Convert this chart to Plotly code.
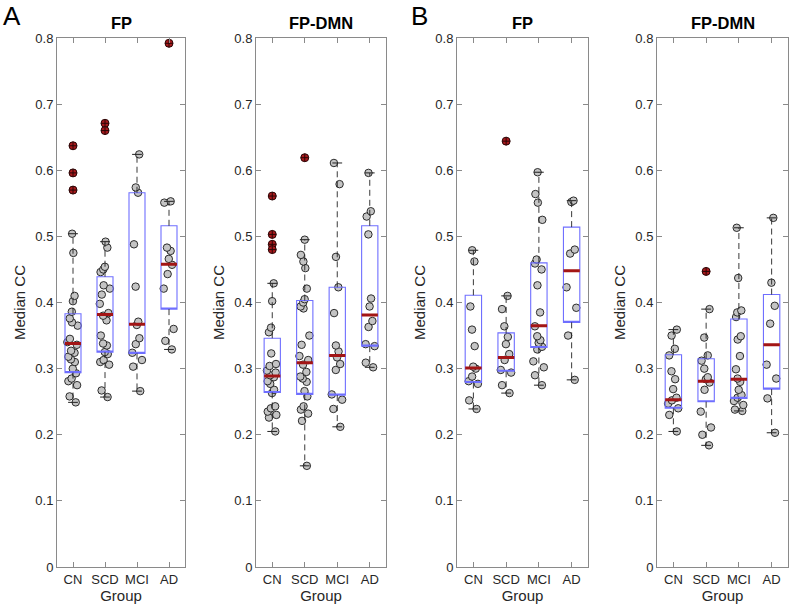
import plotly.graph_objects as go

groups = ["CN", "SCD", "MCI", "AD"]
panel_titles = ["FP", "FP-DMN", "FP", "FP-DMN"]
panel_letters = ["A", "B"]

# ---------------- Panel A : FP ----------------
a_fp_cn = [0.504, 0.475, 0.410, 0.402, 0.386, 0.376, 0.370, 0.365, 0.345, 0.340, 0.336, 0.327,
           0.324, 0.318, 0.314, 0.310, 0.300, 0.293, 0.285, 0.281, 0.275, 0.258, 0.249]
a_fp_scd = [0.492, 0.483, 0.454, 0.450, 0.446, 0.426, 0.421, 0.412, 0.398, 0.384, 0.380, 0.373,
            0.350, 0.338, 0.335, 0.325, 0.322, 0.313, 0.310, 0.306, 0.267, 0.257]
a_fp_mci = [0.624, 0.574, 0.566, 0.488, 0.424, 0.371, 0.366, 0.346, 0.337, 0.324, 0.313, 0.303, 0.266]
a_fp_ad = [0.553, 0.551, 0.483, 0.478, 0.466, 0.457, 0.443, 0.421, 0.360, 0.342, 0.329]
a_fp_out_cn = [0.637, 0.596, 0.570]
a_fp_out_scd = [0.671, 0.660]
a_fp_out_mci = []
a_fp_out_ad = [0.792]
a_fp_q1 = [0.294, 0.325, 0.323, 0.390]
a_fp_med = [0.338, 0.382, 0.367, 0.458]
a_fp_q3 = [0.383, 0.439, 0.566, 0.516]
a_fp_lo = [0.249, 0.257, 0.266, 0.329]
a_fp_hi = [0.504, 0.492, 0.624, 0.553]

# ---------------- Panel A : FP-DMN ----------------
a_dmn_cn = [0.429, 0.402, 0.362, 0.355, 0.323, 0.307, 0.304, 0.297, 0.294, 0.290, 0.287, 0.281,
            0.277, 0.268, 0.263, 0.243, 0.240, 0.235, 0.230, 0.226, 0.205]
a_dmn_scd = [0.495, 0.472, 0.462, 0.452, 0.421, 0.405, 0.400, 0.394, 0.391, 0.350, 0.336, 0.319,
             0.313, 0.306, 0.295, 0.288, 0.285, 0.280, 0.266, 0.258, 0.243, 0.238, 0.232, 0.221, 0.153]
a_dmn_mci = [0.611, 0.579, 0.469, 0.423, 0.384, 0.335, 0.326, 0.317, 0.307, 0.298, 0.261, 0.253,
             0.239, 0.212]
a_dmn_ad = [0.596, 0.538, 0.530, 0.503, 0.406, 0.394, 0.372, 0.363, 0.337, 0.334, 0.309, 0.302]
a_dmn_out_cn = [0.561, 0.503, 0.488, 0.480]
a_dmn_out_scd = [0.619]
a_dmn_out_mci = []
a_dmn_out_ad = []
a_dmn_q1 = [0.264, 0.261, 0.260, 0.334]
a_dmn_med = [0.289, 0.309, 0.320, 0.381]
a_dmn_q3 = [0.346, 0.403, 0.423, 0.516]
a_dmn_lo = [0.205, 0.153, 0.212, 0.302]
a_dmn_hi = [0.429, 0.495, 0.611, 0.596]

# ---------------- Panel B : FP ----------------
b_fp_cn = [0.479, 0.462, 0.394, 0.359, 0.334, 0.303, 0.300, 0.288, 0.281, 0.277, 0.252, 0.239]
b_fp_scd = [0.410, 0.390, 0.364, 0.348, 0.337, 0.322, 0.313, 0.298, 0.294, 0.275, 0.263]
b_fp_mci = [0.597, 0.564, 0.551, 0.525, 0.465, 0.459, 0.450, 0.426, 0.385, 0.364, 0.349, 0.343,
            0.339, 0.333, 0.329, 0.311, 0.302, 0.290, 0.275]
b_fp_ad = [0.554, 0.552, 0.480, 0.474, 0.423, 0.392, 0.350, 0.283]
b_fp_out_cn = []
b_fp_out_scd = [0.644]
b_fp_out_mci = []
b_fp_out_ad = []
b_fp_q1 = [0.279, 0.296, 0.332, 0.370]
b_fp_med = [0.301, 0.317, 0.365, 0.448]
b_fp_q3 = [0.411, 0.354, 0.460, 0.514]
b_fp_lo = [0.239, 0.263, 0.275, 0.283]
b_fp_hi = [0.479, 0.410, 0.597, 0.554]

# ---------------- Panel B : FP-DMN ----------------
b_dmn_cn = [0.359, 0.350, 0.330, 0.320, 0.296, 0.284, 0.269, 0.256, 0.252, 0.247, 0.240, 0.230, 0.205]
b_dmn_scd = [0.390, 0.347, 0.320, 0.312, 0.300, 0.287, 0.284, 0.279, 0.268, 0.235, 0.211, 0.200, 0.184]
b_dmn_mci = [0.513, 0.437, 0.388, 0.385, 0.378, 0.349, 0.344, 0.319, 0.299, 0.285, 0.280, 0.268,
             0.260, 0.256, 0.251, 0.245, 0.238, 0.236]
b_dmn_ad = [0.528, 0.430, 0.395, 0.368, 0.306, 0.285, 0.255, 0.203]
b_dmn_out_cn = []
b_dmn_out_scd = [0.447]
b_dmn_out_mci = []
b_dmn_out_ad = []
b_dmn_q1 = [0.240, 0.250, 0.255, 0.269]
b_dmn_med = [0.253, 0.281, 0.284, 0.336]
b_dmn_q3 = [0.321, 0.315, 0.375, 0.412]
b_dmn_lo = [0.205, 0.184, 0.236, 0.203]
b_dmn_hi = [0.359, 0.390, 0.513, 0.528]

y_ticks = [0, 0.1, 0.2, 0.3, 0.4, 0.5, 0.6, 0.7, 0.8]

panels = [
    dict(points=[a_fp_cn, a_fp_scd, a_fp_mci, a_fp_ad],
         outliers=[a_fp_out_cn, a_fp_out_scd, a_fp_out_mci, a_fp_out_ad],
         q1=a_fp_q1, med=a_fp_med, q3=a_fp_q3, lo=a_fp_lo, hi=a_fp_hi),
    dict(points=[a_dmn_cn, a_dmn_scd, a_dmn_mci, a_dmn_ad],
         outliers=[a_dmn_out_cn, a_dmn_out_scd, a_dmn_out_mci, a_dmn_out_ad],
         q1=a_dmn_q1, med=a_dmn_med, q3=a_dmn_q3, lo=a_dmn_lo, hi=a_dmn_hi),
    dict(points=[b_fp_cn, b_fp_scd, b_fp_mci, b_fp_ad],
         outliers=[b_fp_out_cn, b_fp_out_scd, b_fp_out_mci, b_fp_out_ad],
         q1=b_fp_q1, med=b_fp_med, q3=b_fp_q3, lo=b_fp_lo, hi=b_fp_hi),
    dict(points=[b_dmn_cn, b_dmn_scd, b_dmn_mci, b_dmn_ad],
         outliers=[b_dmn_out_cn, b_dmn_out_scd, b_dmn_out_mci, b_dmn_out_ad],
         q1=b_dmn_q1, med=b_dmn_med, q3=b_dmn_q3, lo=b_dmn_lo, hi=b_dmn_hi),
]

W, H = 790, 612
x_domains_px = [(57, 185), (256, 386), (457, 588), (657, 788)]
y_domain = [1 - 567 / H, 1 - 38 / H]

FONT = "Liberation Sans, Arial, sans-serif"
BOX_BLUE = "#6f6fff"
MED_RED = "#a31515"
FRAME = "#8a8a8a"
TXT = "#262626"

fig = go.Figure()

for i, p in enumerate(panels):
    ax = "" if i == 0 else str(i + 1)
    xa, ya = "x" + ax, "y" + ax

    # jittered sample points (plotly's own jitter)
    for g, vals in zip(groups, p["points"]):
        fig.add_trace(go.Box(
            x=[g] * len(vals), y=vals, xaxis=xa, yaxis=ya,
            boxpoints="all", jitter=0.8, pointpos=0, width=0.5,
            fillcolor="rgba(0,0,0,0)", line=dict(color="rgba(0,0,0,0)", width=0),
            whiskerwidth=0,
            marker=dict(color="#c4c4c4", size=7.5, line=dict(color="#1a1a1a", width=0.9)),
            hoverinfo="y", showlegend=False))

    # blue box (quartiles)
    fig.add_trace(go.Box(
        x=groups, q1=p["q1"], median=p["q1"], q3=p["q3"],
        lowerfence=p["q1"], upperfence=p["q3"], orientation="v",
        xaxis=xa, yaxis=ya, width=0.5, whiskerwidth=0,
        fillcolor="rgba(0,0,0,0)", line=dict(color=BOX_BLUE, width=1.1),
        hoverinfo="skip", showlegend=False))

    # dashed whiskers
    wx, wy = [], []
    for g, a, b, c, d in zip(groups, p["q3"], p["hi"], p["q1"], p["lo"]):
        wx += [g, g, None, g, g, None]
        wy += [a, b, None, c, d, None]
    fig.add_trace(go.Scatter(
        x=wx, y=wy, xaxis=xa, yaxis=ya, mode="lines",
        line=dict(color="#222222", width=0.9, dash="6px,4px"),
        hoverinfo="skip", showlegend=False))

    # whisker caps
    fig.add_trace(go.Scatter(
        x=groups + groups, y=p["hi"] + p["lo"], xaxis=xa, yaxis=ya, mode="markers",
        marker=dict(symbol="line-ew", size=7, line=dict(color="#222222", width=1)),
        hoverinfo="skip", showlegend=False))

    # median line (degenerate box)
    fig.add_trace(go.Box(
        x=groups, q1=p["med"], median=p["med"], q3=p["med"],
        lowerfence=p["med"], upperfence=p["med"], orientation="v",
        xaxis=xa, yaxis=ya, width=0.5, whiskerwidth=0,
        fillcolor="rgba(0,0,0,0)", line=dict(color=MED_RED, width=3),
        hoverinfo="skip", showlegend=False))

    # outliers
    ox, oy = [], []
    for g, outs in zip(groups, p["outliers"]):
        ox += [g] * len(outs)
        oy += outs
    fig.add_trace(go.Scatter(
        x=ox, y=oy, xaxis=xa, yaxis=ya, mode="markers",
        marker=dict(symbol="circle-cross", size=8, color="#a8191c",
                    line=dict(color="#2a0606", width=1)),
        hoverinfo="y", showlegend=False))

    x0, x1 = x_domains_px[i]
    fig.layout["xaxis" + ax] = dict(
        domain=[x0 / W, x1 / W], anchor=ya, type="category", automargin=False,
        categoryorder="array", categoryarray=groups, range=[-0.5, 3.5],
        showline=True, linecolor=FRAME, linewidth=1, mirror="ticks",
        ticks="inside", ticklen=5, tickcolor=FRAME, showgrid=False, zeroline=False,
        tickfont=dict(family=FONT, size=13, color=TXT),
        title=dict(text="Group", font=dict(family=FONT, size=15, color=TXT), standoff=4))
    fig.layout["yaxis" + ax] = dict(
        domain=y_domain, anchor=xa, range=[0, 0.8], tickvals=y_ticks, automargin=False,
        showline=True, linecolor=FRAME, linewidth=1, mirror="ticks",
        ticks="inside", ticklen=5, tickcolor=FRAME, showgrid=False, zeroline=False,
        tickfont=dict(family=FONT, size=13, color=TXT),
        title=dict(text="Median CC", font=dict(family=FONT, size=15, color=TXT), standoff=6))

annotations = []
for i, t in enumerate(panel_titles):
    x0, x1 = x_domains_px[i]
    annotations.append(dict(
        text="<b>" + t + "</b>", x=(x0 + x1) / 2 / W, y=1 - 23 / H,
        xref="paper", yref="paper", xanchor="center", yanchor="middle", showarrow=False,
        font=dict(family=FONT, size=16.5, color="#000000")))
for letter, lx in zip(panel_letters, [12, 419]):
    annotations.append(dict(
        text=letter, x=lx / W, y=1, xref="paper", yref="paper",
        xanchor="center", yanchor="top", showarrow=False, borderpad=0,
        font=dict(family="Liberation Sans, Arial, sans-serif", size=26, color="#000000")))

fig.update_layout(
    width=W, height=H, margin=dict(l=0, r=0, t=0, b=0, autoexpand=False),
    paper_bgcolor="white", plot_bgcolor="white",
    boxmode="overlay", showlegend=False, annotations=annotations)

fig.write_html("out.html", config={"displayModeBar": False},
               post_script="document.body.style.margin='0';document.body.style.overflow='hidden';")
